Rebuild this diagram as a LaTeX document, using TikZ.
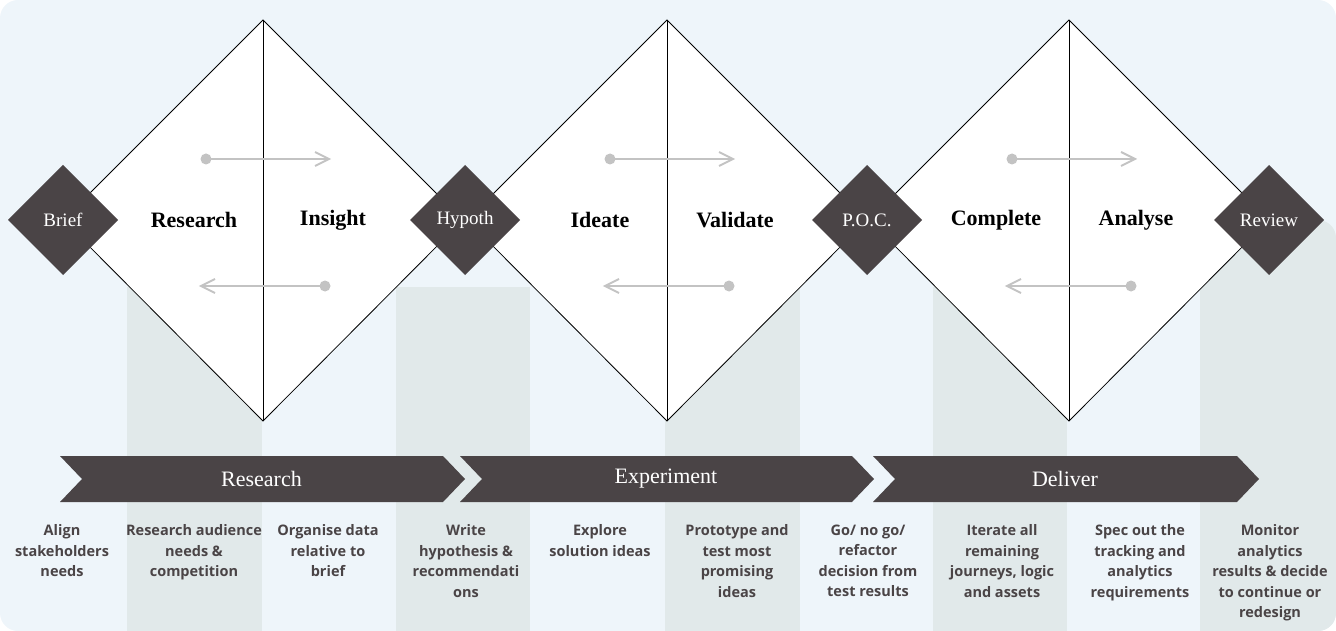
\documentclass[tikz,border=0pt]{standalone}
\usepackage{fontspec}
\setmainfont{Liberation Serif}
\setsansfont{Open Sans}
\begin{document}
\begin{tikzpicture}[x=1pt,y=-1pt,
  big/.style={fill=white,draw=black,line width=0.8pt},
  small/.style={fill=dk,draw=none,minimum size=0pt,text=white,font=\fontsize{19}{21}\selectfont},
  head/.style={font=\bfseries\fontsize{22}{24}\selectfont,text=black},
  flow/.style={draw=arr,line width=2pt},
  desc/.style={font=\sffamily\bfseries\fontsize{14.5}{20.5}\selectfont,text=dk,align=center,anchor=north},
  chev/.style={fill=dk},
  ctext/.style={text=white,font=\fontsize{22}{24}\selectfont}]
\definecolor{dk}{HTML}{4A4446}
\definecolor{bg}{HTML}{EEF5FA}
\definecolor{col}{HTML}{E1E9EA}
\definecolor{arr}{HTML}{C3C3C3}
\useasboundingbox (0,0) rectangle (1336,631);
\fill[bg,rounded corners=18pt] (0,0) rectangle (1336,631);
\foreach \a/\b in {127/262,396/530,665/800,933/1067}
  \fill[col] (\a,287) rectangle (\b,631);
\fill[col,rounded corners=18pt] (1200,220) rectangle (1336,631);
\fill[col] (1200,220) rectangle (1300,631);
% big diamonds
\foreach \c/\n in {263/1,667/2,1069/3}{
  \draw[big] (\c,20) -- (\c+200,220) -- (\c,421) -- (\c-200,220) -- cycle;
  \draw[line width=0.8pt] (\c,20) -- (\c,421);
  \fill[arr] (\c-57,159) circle (5.5);
  \draw[flow] (\c-57,159) -- (\c+66,159);
  \draw[arr,line width=2pt] (\c+52,152) -- (\c+66,159) -- (\c+52,166);
  \fill[arr] (\c+62,286) circle (5.5);
  \draw[flow] (\c+62,286) -- (\c-62,286);
  \draw[arr,line width=2pt] (\c-48,279) -- (\c-62,286) -- (\c-48,293);
}
\node[head] (h1) at (194,220) {Research};
\node[head] (h2) at (333,220) {Insight};
\node[head] (h3) at (600,220) {Ideate};
\node[head] (h4) at (735,220) {Validate};
\node[head] (h5) at (996,220) {Complete};
\node[head] (h6) at (1136,220) {Analyse};
% small diamonds
\foreach \c/\t in {63/Brief,465/Hypoth,867/P.O.C.,1269/Review}{
  \fill[dk] (\c,165) -- (\c+55,220) -- (\c,275) -- (\c-55,220) -- cycle;
  \node[text=white,font=\fontsize{19}{21}\selectfont] at (\c,220) {\t};
}
% chevrons
\foreach \l/\r/\t in {60/443/Research,460/852/Experiment,873/1237/Deliver}{
  \fill[dk] (\l,456) -- (\r,456) -- (\r+22,479) -- (\r,502) -- (\l,502) -- (\l+22,479) -- cycle;
  \node[ctext] at ({(\l+\r)/2+10},479) {\t};
}
\node[desc] (d1) at (62,521) {Align\\stakeholders\\needs};
\node[desc] (d2) at (194,521) {Research audience\\needs \&\\competition};
\node[desc] (d3) at (328,521) {Organise data\\relative to\\brief};
\node[desc] (d4) at (466,521) {Write\\hypothesis \&\\recommendati\\ons};
\node[desc] (d5) at (600,521) {Explore\\solution ideas};
\node[desc] (d6) at (737,521) {Prototype and\\test most\\promising\\ideas};
\node[desc] (d7) at (868,521) {Go/ no go/\\refactor\\decision from\\test results};
\node[desc] (d8) at (1002,521) {Iterate all\\remaining\\journeys, logic\\and assets};
\node[desc] (d9) at (1140,521) {Spec out the\\tracking and\\analytics\\requirements};
\node[desc] (d10) at (1270,521) {Monitor\\analytics\\results \& decide\\to continue or\\redesign};
\end{tikzpicture}
\end{document}
